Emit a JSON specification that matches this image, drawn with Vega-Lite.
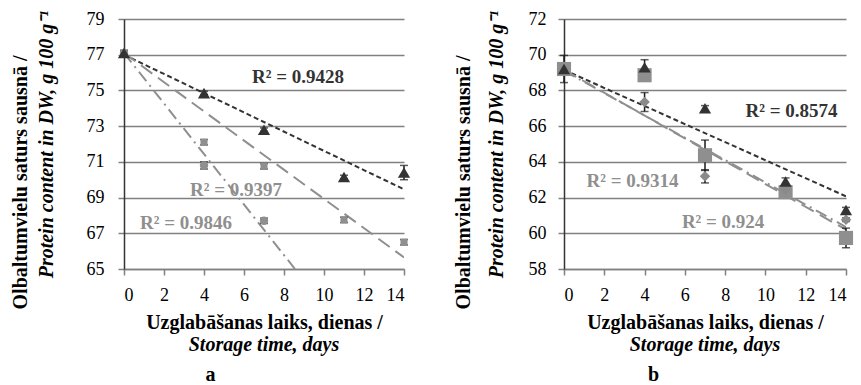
{
  "$schema": "https://vega.github.io/schema/vega-lite/v6.json",
  "padding": {"left": 10, "top": 10, "right": 5, "bottom": 0},
  "config": {
    "view": {"stroke": null},
    "font": "Liberation Serif",
    "axis": {"labelFont": "Liberation Serif", "labelFontSize": 18, "labelColor": "#000", "titleFont": "Liberation Serif", "titleFontSize": 20, "titleFontWeight": "bold", "titleColor": "#000", "tickColor": "#808080", "tickWidth": 1.5, "tickSize": 6, "domainWidth": 1.5},
    "title": {"font": "Liberation Serif", "fontSize": 20, "fontWeight": "bold", "color": "#000"},
    "concat": {"spacing": 42}
  },
  "datasets": {
    "points": [
      {"panel": "a", "series": "T", "day": 0, "value": 77.1, "err": 0.15},
      {"panel": "a", "series": "T", "day": 4, "value": 74.85, "err": 0.1},
      {"panel": "a", "series": "T", "day": 7, "value": 72.8, "err": 0.1},
      {"panel": "a", "series": "T", "day": 11, "value": 70.15, "err": 0.1},
      {"panel": "a", "series": "T", "day": 14, "value": 70.4, "err": 0.4},
      {"panel": "a", "series": "S", "day": 0, "value": 77.1, "err": 0.1},
      {"panel": "a", "series": "S", "day": 4, "value": 72.1, "err": 0.15},
      {"panel": "a", "series": "S", "day": 7, "value": 70.75, "err": 0.15},
      {"panel": "a", "series": "S", "day": 11, "value": 67.75, "err": 0.15},
      {"panel": "a", "series": "S", "day": 14, "value": 66.5, "err": 0.15},
      {"panel": "a", "series": "C", "day": 0, "value": 77.1, "err": 0.1},
      {"panel": "a", "series": "C", "day": 4, "value": 70.8, "err": 0.2},
      {"panel": "a", "series": "C", "day": 7, "value": 67.7, "err": 0.15},
      {"panel": "b", "series": "T", "day": 0, "value": 69.2, "err": 0.1},
      {"panel": "b", "series": "T", "day": 4, "value": 69.3, "err": 0.42},
      {"panel": "b", "series": "T", "day": 7, "value": 67.0, "err": 0.15},
      {"panel": "b", "series": "T", "day": 11, "value": 62.9, "err": 0.2},
      {"panel": "b", "series": "T", "day": 14, "value": 61.3, "err": 0.15},
      {"panel": "b", "series": "Q", "day": 0, "value": 69.2, "err": 0.76},
      {"panel": "b", "series": "Q", "day": 4, "value": 68.85, "err": 0.15},
      {"panel": "b", "series": "Q", "day": 7, "value": 64.37, "err": 0.85},
      {"panel": "b", "series": "Q", "day": 11, "value": 62.3, "err": 0.1},
      {"panel": "b", "series": "Q", "day": 14, "value": 59.74, "err": 0.55},
      {"panel": "b", "series": "D", "day": 0, "value": 69.2, "err": 0.1},
      {"panel": "b", "series": "D", "day": 4, "value": 67.35, "err": 0.53},
      {"panel": "b", "series": "D", "day": 7, "value": 63.19, "err": 0.37},
      {"panel": "b", "series": "D", "day": 11, "value": 62.45, "err": 0.1},
      {"panel": "b", "series": "D", "day": 14, "value": 60.76, "err": 0.1}
    ],
    "trend": [
      {"panel": "a", "series": "T", "day": 0, "value": 77.0},
      {"panel": "a", "series": "T", "day": 14, "value": 69.46},
      {"panel": "a", "series": "S", "day": 0, "value": 77.1},
      {"panel": "a", "series": "S", "day": 14, "value": 65.65},
      {"panel": "a", "series": "C", "day": 0, "value": 77.1},
      {"panel": "a", "series": "C", "day": 8.55, "value": 65.0},
      {"panel": "b", "series": "T", "day": 0, "value": 69.15},
      {"panel": "b", "series": "T", "day": 14, "value": 62.07},
      {"panel": "b", "series": "Q", "day": 0, "value": 69.15},
      {"panel": "b", "series": "Q", "day": 14, "value": 60.2},
      {"panel": "b", "series": "D", "day": 0, "value": 69.1},
      {"panel": "b", "series": "D", "day": 14, "value": 60.35}
    ],
    "labels": [
      {"panel": "a", "series": "T", "day": 8.7, "value": 75.73, "label": "R² = 0.9428"},
      {"panel": "a", "series": "S", "day": 5.6, "value": 69.45, "label": "R² = 0.9397"},
      {"panel": "a", "series": "C", "day": 3.1, "value": 67.6, "label": "R² = 0.9846"},
      {"panel": "b", "series": "T", "day": 11.3, "value": 66.86, "label": "R² = 0.8574"},
      {"panel": "b", "series": "Q", "day": 3.4, "value": 62.94, "label": "R² = 0.9314"},
      {"panel": "b", "series": "D", "day": 7.9, "value": 60.64, "label": "R² = 0.924"}
    ]
  },
  "hconcat": [
    {
      "title": {"text": "a", "orient": "bottom", "anchor": "middle", "frame": "bounds", "offset": 10},
      "vconcat": [
        {
          "title": {"text": "Olbaltumvielu saturs sausnā /", "orient": "left", "anchor": "middle", "offset": 5},
          "vconcat": [
            {
              "width": 280,
              "height": 250,
              "title": {"text": "Storage time, days", "orient": "bottom", "anchor": "middle", "frame": "group", "fontStyle": "italic", "offset": 3},
              "encoding": {
                "x": {"field": "day", "type": "quantitative", "scale": {"domain": [0, 14], "nice": false}, "axis": {"values": [0, 2, 4, 6, 8, 10, 12, 14], "title": "Uzglabāšanas laiks, dienas /", "grid": false, "domainColor": "#808080", "labelPadding": 11, "titlePadding": 8}},
                "y": {"field": "value", "type": "quantitative", "scale": {"domain": [65, 79], "nice": false, "zero": false}, "axis": {"values": [65, 67, 69, 71, 73, 75, 77, 79], "title": "Protein content in DW, g 100 g⁻¹", "titleFontStyle": "italic", "grid": true, "gridColor": "#808080", "gridWidth": 1.5, "domainColor": "#333333", "labelPadding": 14, "titlePadding": 30}}
              },
              "layer": [
                {
                  "data": {"name": "trend"},
                  "transform": [{"filter": "datum.panel === 'a'"}],
                  "mark": {"type": "line", "clip": true, "strokeWidth": 2},
                  "encoding": {
                    "color": {"field": "series", "type": "nominal", "legend": null, "scale": {"domain": ["T", "S", "C", "Q", "D"], "range": ["#333333", "#8f8f8f", "#8f8f8f", "#8f8f8f", "#8f8f8f"]}},
                    "strokeDash": {"field": "series", "type": "nominal", "legend": null, "scale": {"domain": ["T", "S", "C", "Q", "D"], "range": [[5, 3], [14, 7], [12, 5, 2, 5], [14, 7], [12, 5, 2, 5]]}}
                  }
                },
                {
                  "data": {"name": "points"},
                  "transform": [{"filter": "datum.panel === 'a'"}],
                  "mark": {"type": "errorbar", "color": "#1a1a1a", "thickness": 1.5, "ticks": {"size": 8, "color": "#1a1a1a"}},
                  "encoding": {"yError": {"field": "err"}}
                },
                {
                  "data": {"name": "points"},
                  "transform": [{"filter": "datum.panel === 'a' && datum.series === 'S'"}],
                  "mark": {"type": "point", "shape": "square", "filled": true, "opacity": 1, "size": 50, "color": "#8f8f8f"}
                },
                {
                  "data": {"name": "points"},
                  "transform": [{"filter": "datum.panel === 'a' && datum.series === 'C'"}],
                  "mark": {"type": "point", "shape": "circle", "filled": true, "opacity": 1, "size": 70, "color": "#8f8f8f"}
                },
                {
                  "data": {"name": "points"},
                  "transform": [{"filter": "datum.panel === 'a' && datum.series === 'T'"}],
                  "mark": {"type": "point", "shape": "triangle-up", "filled": true, "opacity": 1, "size": 150, "color": "#333333"}
                },
                {
                  "data": {"name": "labels"},
                  "transform": [{"filter": "datum.panel === 'a'"}],
                  "mark": {"type": "text", "font": "Liberation Serif", "fontSize": 19, "fontWeight": "bold"},
                  "encoding": {
                    "text": {"field": "label"},
                    "color": {"field": "series", "type": "nominal", "legend": null, "scale": {"domain": ["T", "S", "C", "Q", "D"], "range": ["#333333", "#8f8f8f", "#8f8f8f", "#8f8f8f", "#8f8f8f"]}}
                  }
                }
              ]
            }
          ]
        }
      ]
    },
    {
      "title": {"text": "b", "orient": "bottom", "anchor": "middle", "frame": "bounds", "offset": 10},
      "vconcat": [
        {
          "title": {"text": "Olbaltumvielu saturs sausnā /", "orient": "left", "anchor": "middle", "offset": 12},
          "vconcat": [
            {
              "width": 282,
              "height": 250,
              "title": {"text": "Storage time, days", "orient": "bottom", "anchor": "middle", "frame": "group", "fontStyle": "italic", "offset": 3},
              "encoding": {
                "x": {"field": "day", "type": "quantitative", "scale": {"domain": [0, 14], "nice": false}, "axis": {"values": [0, 2, 4, 6, 8, 10, 12, 14], "title": "Uzglabāšanas laiks, dienas /", "grid": false, "domainColor": "#808080", "labelPadding": 11, "titlePadding": 8}},
                "y": {"field": "value", "type": "quantitative", "scale": {"domain": [58, 72], "nice": false, "zero": false}, "axis": {"values": [58, 60, 62, 64, 66, 68, 70, 72], "title": "Protein content in DW, g 100 g⁻¹", "titleFontStyle": "italic", "grid": true, "gridColor": "#808080", "gridWidth": 1.5, "domainColor": "#333333", "labelPadding": 12, "titlePadding": 22}}
              },
              "layer": [
                {
                  "data": {"name": "trend"},
                  "transform": [{"filter": "datum.panel === 'b'"}],
                  "mark": {"type": "line", "clip": true, "strokeWidth": 2},
                  "encoding": {
                    "color": {"field": "series", "type": "nominal", "legend": null, "scale": {"domain": ["T", "S", "C", "Q", "D"], "range": ["#333333", "#8f8f8f", "#8f8f8f", "#8f8f8f", "#8f8f8f"]}},
                    "strokeDash": {"field": "series", "type": "nominal", "legend": null, "scale": {"domain": ["T", "S", "C", "Q", "D"], "range": [[5, 3], [14, 7], [12, 5, 2, 5], [14, 7], [12, 5, 2, 5]]}}
                  }
                },
                {
                  "data": {"name": "points"},
                  "transform": [{"filter": "datum.panel === 'b'"}],
                  "mark": {"type": "errorbar", "color": "#1a1a1a", "thickness": 1.5, "ticks": {"size": 8, "color": "#1a1a1a"}},
                  "encoding": {"yError": {"field": "err"}}
                },
                {
                  "data": {"name": "points"},
                  "transform": [{"filter": "datum.panel === 'b' && datum.series === 'Q'"}],
                  "mark": {"type": "point", "shape": "square", "filled": true, "opacity": 1, "size": 200, "color": "#8f8f8f"}
                },
                {
                  "data": {"name": "points"},
                  "transform": [{"filter": "datum.panel === 'b' && datum.series === 'D'"}],
                  "mark": {"type": "point", "shape": "diamond", "filled": true, "opacity": 1, "size": 110, "color": "#8a8a8a"}
                },
                {
                  "data": {"name": "points"},
                  "transform": [{"filter": "datum.panel === 'b' && datum.series === 'T'"}],
                  "mark": {"type": "point", "shape": "triangle-up", "filled": true, "opacity": 1, "size": 150, "color": "#333333"}
                },
                {
                  "data": {"name": "labels"},
                  "transform": [{"filter": "datum.panel === 'b'"}],
                  "mark": {"type": "text", "font": "Liberation Serif", "fontSize": 19, "fontWeight": "bold"},
                  "encoding": {
                    "text": {"field": "label"},
                    "color": {"field": "series", "type": "nominal", "legend": null, "scale": {"domain": ["T", "S", "C", "Q", "D"], "range": ["#333333", "#8f8f8f", "#8f8f8f", "#8f8f8f", "#8f8f8f"]}}
                  }
                }
              ]
            }
          ]
        }
      ]
    }
  ]
}
